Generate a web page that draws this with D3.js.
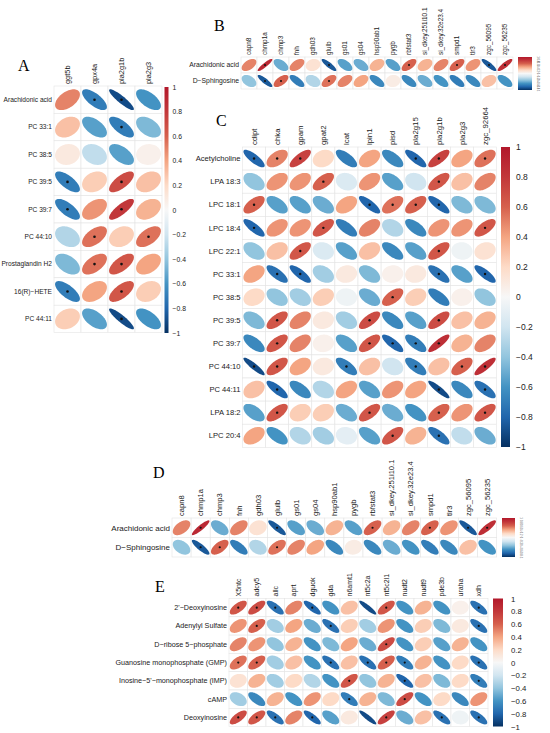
<!DOCTYPE html>
<html>
<head>
<meta charset="utf-8">
<style>
  body { margin: 0; background: #fff; }
  svg { display: block; font-family: 'Liberation Sans', Arial, sans-serif; }
  .letter { font-family: 'Liberation Serif', 'Times New Roman', serif; }
</style>
</head>
<body>
<svg width="550" height="733"></svg>

<script src="https://d3js.org/d3.v7.min.js"></script>
<script>
// ---- data ----
let tickValues = [1, 0.8, 0.6, 0.4, 0.2, 0, -0.2, -0.4, -0.6, -0.8, -1]
let tickLabels = ["1", "0.8", "0.6", "0.4", "0.2", "0", "\u22120.2", "\u22120.4", "\u22120.6", "\u22120.8", "\u22121"]

// panel A
let colsA = ["ggt5b", "gpx4a", "pla2g1b", "pla2g3"]
let rowsA = ["Arachidonic acid", "PC 33:1", "PC 38:5", "PC 39:5", "PC 39:7", "PC 44:10", "Prostaglandin H2", "16(R)\u2212HETE", "PC 44:11"]
let valuesA = [
    [0.5, -0.7, -0.9, -0.6],
    [0.3, -0.55, -0.7, -0.45],
    [0.1, -0.25, -0.55, 0.05],
    [-0.7, 0.25, 0.7, 0.3],
    [-0.7, 0.45, 0.8, 0.35],
    [-0.3, 0.55, 0.25, 0.55],
    [-0.45, 0.55, 0.65, 0.4],
    [-0.7, 0.4, 0.65, 0.25],
    [0.25, -0.55, -0.9, -0.6]
]
let sigA = [
    [0, 1, 1, 0], [0, 0, 1, 0], [0, 0, 0, 0], [1, 0, 1, 0], [1, 0, 1, 0],
    [0, 1, 0, 1], [0, 1, 1, 0], [1, 0, 1, 0], [0, 0, 1, 0]
]

// panel B (panel D shows the same matrix)
let colsB = ["capn8", "chmp1a", "chmp3", "fnh", "gdh03", "glulb", "gs01", "gs04", "hsp90ab1", "pygb", "rbfstat3",
    "si_dkey.251i10.1", "si_dkey.32e23.4", "smpd1", "tlr3", "zgc_56095", "zgc_56235"]
let rowsB = ["Arachidonic acid", "D\u2212Sphingosine"]
let valuesB = [
    [0.5, 0.9, -0.5, 0.5, 0.15, -0.85, -0.55, -0.5, 0.35, -0.55, 0.6, 0.35, 0.5, 0.6, 0.45, -0.85, 0.85],
    [-0.4, -0.85, 0.6, -0.7, -0.3, 0.55, 0.5, 0.4, -0.65, 0.08, -0.65, -0.5, -0.6, -0.7, -0.65, 0.3, -0.6]
]
let sigB = [
    [0, 1, 0, 0, 0, 1, 0, 0, 0, 0, 1, 0, 0, 1, 0, 1, 1],
    [0, 1, 1, 0, 0, 1, 0, 0, 0, 0, 0, 0, 0, 0, 0, 0, 0]
]

// panel C
let colsC = ["cdipt", "chka", "gpam", "gpat2", "lcat", "lpin1", "pisd", "pla2g15", "pla2g1b", "pla2g3", "zgc_92664"]
let rowsC = ["Acetylcholine", "LPA 18:3", "LPC 18:1", "LPC 18:4", "LPC 22:1", "PC 33:1", "PC 38:5", "PC 39:5",
    "PC 39:7", "PC 44:10", "PC 44:11", "LPA 18:2", "LPC 20:4"]
let valuesC = [
    [-0.8, 0.5, 0.75, 0.2, -0.7, 0.4, -0.65, -0.8, 0.75, 0.4, 0.55],
    [-0.4, 0.45, 0.45, 0.6, -0.15, 0.45, -0.55, -0.2, 0.65, 0.3, 0.5],
    [0.6, -0.55, -0.55, -0.5, 0.4, -0.8, 0.55, 0.6, -0.8, -0.45, -0.45],
    [-0.8, 0.45, 0.45, 0.65, -0.7, 0.5, -0.3, -0.65, 0.45, 0.45, 0.65],
    [-0.4, 0.3, 0.65, -0.15, -0.55, 0.3, -0.65, -0.55, 0.65, -0.05, 0.15],
    [0.4, -0.75, -0.8, -0.35, 0.1, -0.45, 0.05, 0.1, -0.75, -0.55, -0.8],
    [0.2, -0.4, -0.35, 0.25, -0.05, -0.5, 0.6, 0.25, -0.7, 0.05, -0.4],
    [-0.45, 0.65, 0.5, 0.1, -0.35, 0.7, -0.65, -0.55, 0.7, 0.3, 0.35],
    [-0.65, 0.65, 0.5, 0.05, -0.55, 0.65, -0.8, -0.7, 0.85, 0.35, 0.5],
    [-0.9, 0.65, 0.4, 0.1, -0.7, 0.3, -0.2, -0.7, 0.3, 0.6, 0.85],
    [0.3, -0.8, -0.65, -0.3, 0.4, -0.55, 0.45, 0.4, -0.9, -0.65, -0.75],
    [-0.55, 0.65, 0.25, 0.25, -0.5, 0.65, -0.5, -0.6, 0.6, 0.45, 0.65],
    [0.4, -0.6, -0.3, -0.35, -0.1, -0.55, 0.65, 0.35, -0.75, -0.25, -0.5]
]
let sigC = [
    [1, 1, 1, 0, 0, 0, 0, 1, 1, 0, 1],
    [0, 0, 0, 1, 0, 0, 0, 0, 1, 0, 0],
    [1, 0, 0, 0, 0, 1, 1, 1, 1, 0, 0],
    [1, 0, 0, 1, 0, 0, 0, 0, 0, 0, 1],
    [0, 0, 1, 0, 0, 0, 0, 0, 1, 0, 0],
    [0, 1, 1, 0, 0, 0, 0, 0, 1, 0, 1],
    [0, 0, 0, 0, 0, 0, 1, 0, 0, 0, 0],
    [0, 1, 0, 0, 0, 1, 0, 0, 1, 0, 0],
    [0, 1, 0, 0, 0, 1, 1, 1, 1, 0, 0],
    [1, 1, 0, 0, 1, 0, 0, 1, 0, 1, 1],
    [0, 1, 0, 0, 0, 0, 0, 0, 1, 0, 1],
    [0, 1, 0, 0, 0, 1, 0, 0, 1, 0, 1],
    [0, 0, 0, 0, 0, 0, 1, 0, 1, 0, 0]
]

// panel E
let colsE = ["X5ntc", "adcy5", "allc", "aprt", "dguok", "gda", "n6amt1", "nt5c2a", "nt5c2l1", "nudt2", "nudt9", "pde3b", "uraha", "xdh"]
let rowsE = ["2'\u2212Deoxyinosine", "Adenylyl Sulfate", "D\u2212ribose 5\u2212phosphate", "Guanosine monophosphate (GMP)",
    "Inosine\u22125'\u2212monophosphate (IMP)", "cAMP", "Deoxyinosine"]
let valuesE = [
    [0.65, 0.7, -0.75, 0.5, -0.8, -0.6, 0.3, -0.9, 0.65, -0.6, 0.35, -0.6, 0.05, -0.75],
    [0.45, 0.6, -0.35, 0.4, -0.5, -0.75, 0.25, -0.35, 0.45, -0.6, 0.25, -0.45, 0.1, -0.75],
    [0.5, 0.45, -0.4, 0.35, -0.6, -0.45, 0.4, -0.5, 0.7, -0.6, 0.25, -0.55, 0.35, -0.6],
    [0.55, 0.6, -0.35, 0.3, -0.6, -0.75, 0.3, -0.75, 0.6, -0.7, 0.35, -0.6, 0.2, -0.75],
    [0.15, 0.35, -0.35, 0.2, -0.3, -0.6, 0.65, -0.4, 0.35, -0.8, 0.3, -0.45, 0.2, -0.7],
    [-0.35, -0.65, 0.35, -0.6, 0.45, 0.2, -0.7, 0.35, -0.45, 0.7, -0.6, 0.2, -0.65, 0.45],
    [0.7, 0.65, -0.75, 0.5, -0.8, -0.55, 0.1, -0.9, 0.75, -0.5, 0.3, -0.75, -0.05, -0.75]
]
let sigE = [
    [1, 1, 1, 0, 1, 0, 0, 0, 1, 0, 0, 0, 0, 1],
    [0, 1, 0, 0, 0, 1, 0, 0, 0, 0, 0, 0, 0, 1],
    [0, 0, 0, 0, 0, 0, 0, 0, 1, 0, 0, 0, 0, 0],
    [1, 1, 0, 0, 0, 1, 0, 1, 1, 1, 0, 0, 0, 1],
    [0, 0, 0, 0, 0, 0, 1, 0, 0, 1, 0, 0, 0, 1],
    [0, 0, 0, 0, 0, 0, 1, 0, 0, 1, 0, 0, 0, 0],
    [1, 1, 1, 0, 1, 0, 0, 0, 1, 0, 0, 1, 0, 1]
]

// ---- drawing ----
let svg = d3.select("svg")

let color = d3.scaleLinear()
    .domain([-1, -0.8, -0.6, -0.4, -0.2, 0, 0.2, 0.4, 0.6, 0.8, 1])
    .range(["#053061", "#2166AC", "#4393C3", "#92C5DE", "#D1E5F0", "#F7F7F7",
        "#FDDBC7", "#F4A582", "#D6604D", "#C2373A", "#B2182B"])

// corrplot style ellipse, centered at 0,0
function ellipsePath(r, rx, ry) {
    let d = Math.acos(Math.max(-0.995, Math.min(0.995, r)))
    let pts = d3.range(0, 73).map(i => {
        let t = i / 72 * 2 * Math.PI
        return [Math.cos(t + d / 2) * rx, -Math.cos(t - d / 2) * ry]
    })
    return d3.line()(pts) + "Z"
}

let gradId = 0

function drawPanel(p) {
    let g = svg.append("g")
    let x = d3.scaleBand().domain(p.cols).range([p.x0, p.x0 + p.cw * p.cols.length])
    let y = d3.scaleBand().domain(p.rows).range([p.y0, p.y0 + p.ch * p.rows.length])

    let cells = []
    p.values.forEach((row, i) => row.forEach((v, j) => {
        cells.push({ row: p.rows[i], col: p.cols[j], v: v, sig: p.sig[i][j] })
    }))

    g.selectAll(".cell")
        .data(cells)
        .join("rect")
        .attr("x", d => x(d.col))
        .attr("y", d => y(d.row))
        .attr("width", x.bandwidth())
        .attr("height", y.bandwidth())
        .style("fill", "white")
        .style("stroke", "#e4e4e4")
        .style("stroke-width", 0.6)

    g.selectAll(".ell")
        .data(cells)
        .join("path")
        .attr("transform", d => `translate(${x(d.col) + x.bandwidth() / 2},${y(d.row) + y.bandwidth() / 2})`)
        .attr("d", d => ellipsePath(d.v, x.bandwidth() * 0.46, y.bandwidth() * 0.38))
        .style("fill", d => color(d.v))

    g.selectAll(".sig")
        .data(cells.filter(d => d.sig))
        .join("circle")
        .attr("cx", d => x(d.col) + x.bandwidth() / 2)
        .attr("cy", d => y(d.row) + y.bandwidth() / 2)
        .attr("r", p.dot)
        .style("fill", "#111")

    // row labels
    g.selectAll(".rlab")
        .data(p.rows)
        .join("text")
        .attr("x", p.x0 - 2)
        .attr("y", d => y(d) + y.bandwidth() / 2)
        .attr("dy", "0.35em")
        .attr("text-anchor", "end")
        .style("font-size", p.fs + "px")
        .style("fill", "#1a1a1a")
        .text(d => d)

    // column labels
    g.selectAll(".clab")
        .data(p.cols)
        .join("text")
        .attr("transform", d => `translate(${x(d) + x.bandwidth() / 2 + p.cfs * 0.35},${p.y0 - 2}) rotate(-90)`)
        .style("font-size", p.cfs + "px")
        .style("fill", "#1a1a1a")
        .text(d => d)

    // colour bar
    let id = "grad" + (gradId++)
    let grad = svg.append("defs").append("linearGradient")
        .attr("id", id).attr("x1", 0).attr("x2", 0).attr("y1", 1).attr("y2", 0)
    grad.selectAll("stop")
        .data(d3.range(0, 21).map(i => -1 + i * 0.1))
        .join("stop")
        .attr("offset", d => (d + 1) / 2)
        .attr("stop-color", d => color(d))

    g.append("rect")
        .attr("x", p.bar[0]).attr("y", p.bar[1])
        .attr("width", p.bar[2]).attr("height", p.bar[3])
        .style("fill", `url(#${id})`)

    let yb = d3.scaleLinear().domain([-1, 1]).range([p.bar[1] + p.bar[3], p.bar[1]])
    if (p.tiny) {
        g.selectAll(".tl")
            .data(tickValues)
            .join("text")
            .attr("transform", d => `translate(${p.bar[0] + p.bar[2] + 5},${yb(d)}) rotate(90)`)
            .attr("text-anchor", "middle")
            .style("font-size", "2.6px")
            .style("fill", "#555")
            .text((d, i) => tickLabels[i])
    } else {
        let axis = d3.axisRight(yb)
            .tickValues(tickValues)
            .tickSize(0)
            .tickPadding(p.tickPad)
            .tickFormat((d, i) => tickLabels[i])
        let ag = g.append("g")
            .attr("transform", `translate(${p.bar[0] + p.bar[2]},0)`)
            .call(axis)
        ag.select(".domain").remove()
        ag.selectAll("text")
            .style("font-size", p.tfs + "px")
            .style("font-family", "'Liberation Sans', Arial, sans-serif")
            .style("fill", "#222")
    }

    svg.append("text")
        .attr("class", "letter")
        .attr("x", p.letter[0]).attr("y", p.letter[1])
        .style("font-size", "16px")
        .text(p.name)
}

drawPanel({
    name: "A", letter: [18, 71],
    rows: rowsA, cols: colsA, values: valuesA, sig: sigA,
    x0: 54, y0: 86, cw: 27, ch: 27.4, fs: 6.6, cfs: 7.4, dot: 1.3,
    bar: [164.5, 87, 4, 246], tickPad: 4, tfs: 6.8
})

drawPanel({
    name: "B", letter: [214, 31],
    rows: rowsB, cols: colsB, values: valuesB, sig: sigB,
    x0: 241, y0: 57, cw: 16, ch: 16, fs: 6.8, cfs: 6.4, dot: 1,
    bar: [518, 57, 14, 33], tiny: true
})

drawPanel({
    name: "C", letter: [216, 126],
    rows: rowsC, cols: colsC, values: valuesC, sig: sigC,
    x0: 242.5, y0: 147, cw: 23.1, ch: 23.1, fs: 7.6, cfs: 7.8, dot: 1.2,
    bar: [501, 147, 9, 300], tickPad: 6, tfs: 8.5
})

drawPanel({
    name: "D", letter: [153, 478],
    rows: rowsB, cols: colsB, values: valuesB, sig: sigB,
    x0: 172, y0: 518, cw: 19.1, ch: 19.5, fs: 8, cfs: 7.6, dot: 1.1,
    bar: [502, 518, 13, 39], tiny: true
})

drawPanel({
    name: "E", letter: [155, 592],
    rows: rowsE, cols: colsE, values: valuesE, sig: sigE,
    x0: 229, y0: 598.5, cw: 18.5, ch: 18.3, fs: 7.2, cfs: 7, dot: 1.1,
    bar: [493, 598.5, 10, 128], tickPad: 8, tfs: 7.8
})
</script>
</body>
</html>
